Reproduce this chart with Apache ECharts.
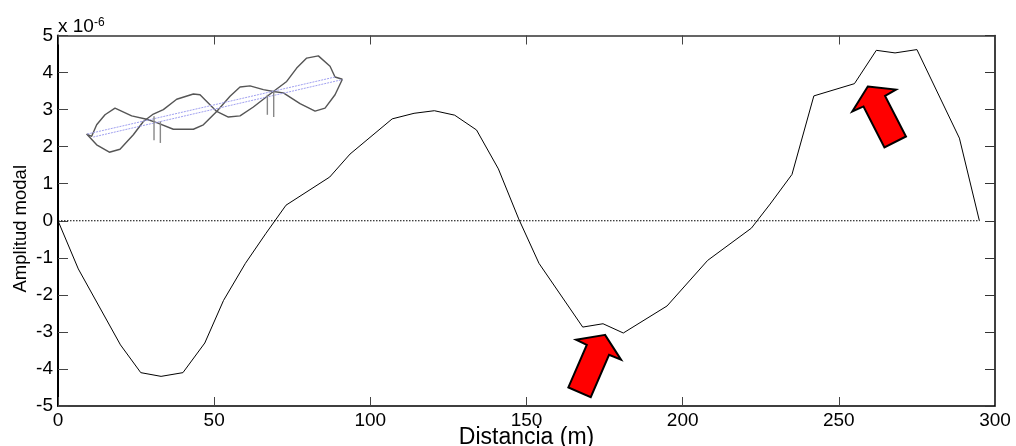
<!DOCTYPE html>
<html><head><meta charset="utf-8">
<script src="https://cdn.jsdelivr.net/npm/echarts@6/dist/echarts.min.js"></script>
<style>html,body{margin:0;padding:0;background:#fff}#c{width:1016px;height:446px}</style>
</head><body><div id="c"></div>
<script>
const xTicks = [0,50,100,150,200,250,300];
const yTicks = [-5,-4,-3,-2,-1,0,1,2,3,4,5];
const distance = [0,6.5,20,26.5,33,40,47,53,60,66.5,73,87,93.5,107,114,120.5,127,134,141,147.5,154,168,174.5,181,195,208,222,228,235,242,255,262,268,275,288.6,295];
const amplitude = [0,-1.3,-3.35,-4.1,-4.2,-4.1,-3.3,-2.15,-1.15,-0.35,0.42,1.18,1.8,2.75,2.9,2.97,2.85,2.45,1.4,0.05,-1.15,-2.87,-2.78,-3.03,-2.3,-1.07,-0.2,0.45,1.25,3.37,3.7,4.6,4.53,4.62,2.23,0];
const zeroLine = [[0,0],[295,0]];
const insetA = [[9.18,2.34],[10.78,2.28],[12.38,2.59],[15.05,2.86],[18.25,3.04],[23.59,2.83],[28.39,2.74],[31.6,2.65],[36.93,2.47],[43.34,2.47],[46.54,2.59],[50.81,2.95],[55.08,3.36],[58.28,3.61],[61.48,3.64],[65.75,3.54],[68.95,3.49],[72.15,3.45],[77.49,3.16],[82.3,2.96],[85.5,3.04],[88.7,3.40],[91.05,3.82]];
const insetB = [[9.18,2.34],[12.38,2.05],[16.44,1.85],[19.85,1.93],[24.12,2.32],[27.33,2.68],[30.53,2.88],[33.73,3.0],[38,3.28],[43.34,3.42],[45.47,3.40],[50.81,2.95],[54.54,2.80],[58.28,2.83],[62.55,3.07],[68.95,3.49],[73.22,3.76],[76.42,4.12],[79.63,4.39],[83.36,4.45],[87.1,4.17],[88.7,3.88],[91.05,3.82]];
const deckA = [[9.39,2.34],[88.7,3.88]];
const deckB = [[11.3,2.26],[91.05,3.81]];
const piers = [[[30.74,2.82],[30.74,2.17]],[[32.77,2.68],[32.77,2.10]],[[67.03,3.40],[67.03,2.86]],[[69.06,3.49],[69.06,2.80]]];
const arrowLow = [[175.15,-3.08],[165.87,-3.21],[169.3,-3.35],[163.4,-4.50],[170.57,-4.76],[176.43,-3.62],[180.27,-3.75]];
const arrowHigh = [[259.27,3.625],[268.3,3.54],[264.8,3.37],[271.5,2.275],[264.6,1.98],[257.9,3.085],[254.3,2.95]];

const font = '"Liberation Sans", Arial, sans-serif';
const line = (data, color, width, type, z) => ({type:'line', data, showSymbol:false, symbol:'none', silent:true, animation:false, clip:false, z:z||2,
  lineStyle:{color, width, type:type||'solid'}});
const arrow = pts => ({type:'custom', coordinateSystem:'cartesian2d', data:[0], silent:true, animation:false, clip:false, z:5,
  renderItem:(p,api)=>({type:'polygon', shape:{points:pts.map(q=>api.coord(q))}, style:{fill:'#ff0000', stroke:'#000', lineWidth:2, lineJoin:'miter'}})});

const chart = echarts.init(document.getElementById('c'), null, {renderer:'canvas'});
const axisBase = {min:0,max:300,interval:50};
const yBase = {min:-5,max:5,interval:1};
chart.setOption({
  animation:false,
  backgroundColor:'#fff',
  title:{text:'x 10{s|-6}', left:53, top:12, textStyle:{fontFamily:font, fontSize:19, fontWeight:'normal', color:'#000',
    rich:{s:{fontFamily:font, fontSize:12, color:'#000', verticalAlign:'top', lineHeight:19, padding:[0,0,8,0]}}}},
  grid:{left:58, right:21, top:35.5, bottom:40, outerBoundsMode:'none'},
  xAxis:[
    {type:'value', ...axisBase, position:'bottom', name:'Distancia (m)', nameLocation:'middle', nameGap:20, nameMoveOverlap:false,
      nameTextStyle:{fontFamily:font,fontSize:23,color:'#000'}, splitLine:{show:false},
      axisLine:{onZero:false,lineStyle:{color:'#000',width:1.5}},
      axisTick:{inside:true,length:9,lineStyle:{color:'#444',width:1}},
      axisLabel:{fontFamily:font,fontSize:19,color:'#000',margin:5,customValues:xTicks}},
    {type:'value', ...axisBase, position:'top', splitLine:{show:false},
      axisLine:{onZero:false,lineStyle:{color:'#333',width:1.5}},
      axisTick:{inside:true,length:9,lineStyle:{color:'#444',width:1}},
      axisLabel:{show:false}}
  ],
  yAxis:[
    {type:'value', ...yBase, position:'left', name:'Amplitud modal', nameLocation:'middle', nameGap:28, nameMoveOverlap:false,
      nameTextStyle:{fontFamily:font,fontSize:18.5,color:'#000',padding:[0,16,0,0]}, splitLine:{show:false},
      axisLine:{onZero:false,lineStyle:{color:'#000',width:2}},
      axisTick:{inside:true,length:10,lineStyle:{color:'#444',width:1}},
      axisLabel:{fontFamily:font,fontSize:19,color:'#000',margin:5,customValues:yTicks}},
    {type:'value', ...yBase, position:'right', splitLine:{show:false},
      axisLine:{onZero:false,lineStyle:{color:'#000',width:1.5}},
      axisTick:{inside:true,length:10,lineStyle:{color:'#333',width:1}},
      axisLabel:{show:false}}
  ],
  series:[
    line(distance.map((d,i)=>[d,amplitude[i]]),'#000',1),
    line(zeroLine,'#000',1,[1.5,1.5]),
    line(insetA,'#555',1.4),
    line(insetB,'#555',1.4),
    line(deckA,'#a0a0f0',1,[2,1]),
    line(deckB,'#a0a0f0',1,[2,1]),
    ...piers.map(p=>line(p,'#888',1.4)),
    arrow(arrowLow),
    arrow(arrowHigh)
  ]
});
</script></body></html>
